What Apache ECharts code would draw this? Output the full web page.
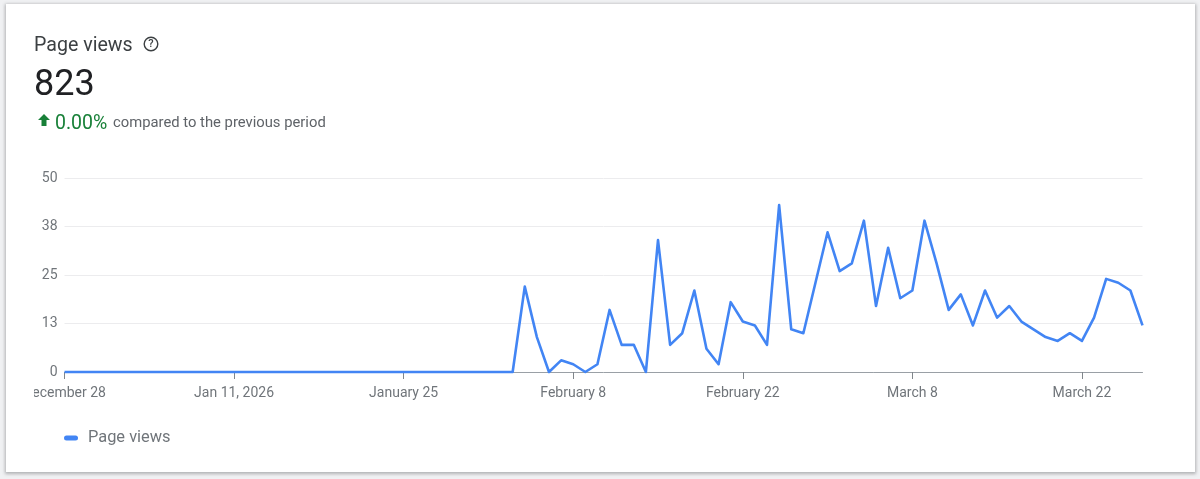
<!DOCTYPE html>
<html>
<head>
<meta charset="utf-8">
<style>
html,body{margin:0;padding:0;width:1200px;height:479px;background:#f0f1f3;overflow:hidden}
#card{position:absolute;left:6px;top:4px;width:1189px;height:468px;background:#fff;box-shadow:0 1px 3px 1px rgba(60,64,67,.35)}
#main{position:absolute;left:34px;top:0;width:1166px;height:479px}
</style>
<script src="https://cdn.jsdelivr.net/npm/echarts@6/dist/echarts.min.js"></script>
</head>
<body>
<div id="card"></div>
<div id="main"></div>
<script>
const seriesName = 'Page views';
const tickLabels = ['December 28','Jan 11, 2026','January 25','February 8','February 22','March 8','March 22'];
const pageViews = [
 0,0,0,0,0,0,0,0,0,0,0,0,0,0,0,0,0,0,0,0,0,0,0,0,0,0,0,0,0,0,0,0,0,0,0,0,0,0,
 22,9,0,3,2,0,2,16,7,7,0,34,7,10,21,6,2,18,13,12,7,43,11,10,23,36,26,28,39,17,32,19,21,39,28,16,20,12,21,14,17,13,11,9,8,10,8,14,24,23,21,12
];
const yTicks = {min:0,max:50,step:12.5};
const categories = pageViews.map((_,i)=> i%14===0 ? tickLabels[i/14] : 'd'+i);
const totalText = '823', changeText = '0.00%', compareText = 'compared to the previous period';
const font = 'Roboto, "Noto Sans", sans-serif';
const chart = echarts.init(document.getElementById('main'),null,{renderer:'canvas'});
chart.setOption({
  animation:false,
  grid:{left:30.5,right:57.5,top:178,bottom:107,containLabel:false,outerBoundsMode:'none'},
  legend:{show:true,left:25,top:425,itemWidth:14,itemHeight:5,itemGap:10,
    icon:'path://M2.5 0H11.5A2.5 2.5 0 0 1 11.5 5H2.5A2.5 2.5 0 0 1 2.5 0Z',
    data:[seriesName],textStyle:{color:'#70757a',fontSize:16.4,fontFamily:font,padding:[0,0,0,5]}},
  xAxis:{type:'category',boundaryGap:false,data:categories,
    axisLine:{lineStyle:{color:'#9aa0a6',width:1}},
    axisTick:{show:true,interval:13,length:7,lineStyle:{color:'#80868b',width:1}},
    axisLabel:{interval:13,margin:14,color:'#70757a',fontSize:14,fontFamily:font,hideOverlap:false},
    splitLine:{show:false}},
  yAxis:{type:'value',min:yTicks.min,max:yTicks.max,interval:yTicks.step,
    axisLine:{show:false},axisTick:{show:false},
    axisLabel:{margin:7,padding:[5,0,0,0],color:'#70757a',fontSize:14,fontFamily:font,formatter:v=>String(Math.round(v))},
    splitLine:{lineStyle:{color:'#ececee',width:1}}},
  series:[{name:seriesName,type:'line',data:pageViews,symbol:'none',smooth:false,clip:false,
    lineStyle:{color:'#4285f4',width:2.6,join:'round'},itemStyle:{color:'#4285f4'}}],
  graphic:[
    {type:'text',left:0,top:36,style:{text:seriesName,fontSize:19.6,fontFamily:font,fill:'#3c4043'}},
    {type:'circle',shape:{cx:117,cy:44,r:6.8},style:{fill:'none',stroke:'#3c4043',lineWidth:1.4}},
    {type:'text',x:117,y:44,style:{text:'?',fontSize:11,fontWeight:500,fontFamily:font,fill:'#3c4043',align:'center',verticalAlign:'middle'}},
    {type:'text',left:0,top:68,style:{text:totalText,fontSize:36,fontFamily:font,fill:'#202124'}},
    {type:'polygon',shape:{points:[[10,114],[16,120],[12.5,120],[12.5,126],[7.5,126],[7.5,120],[4,120]]},style:{fill:'#188038'}},
    {type:'text',left:21,top:114,style:{text:changeText,fontSize:19.5,fontFamily:font,fill:'#188038'}},
    {type:'text',left:79,top:116,style:{text:compareText,fontSize:14.8,fontFamily:font,fill:'#5f6368'}}
  ]
});
</script>
</body>
</html>
